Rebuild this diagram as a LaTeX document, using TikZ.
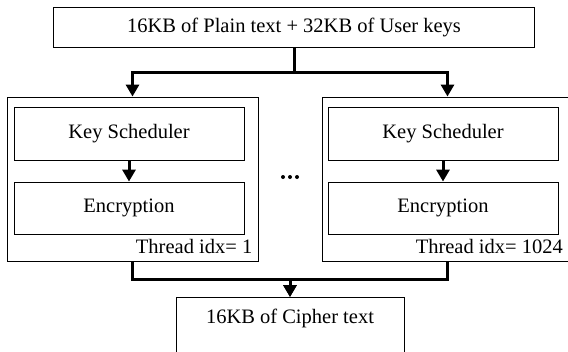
\documentclass[tikz,border=0pt]{standalone}
\usepackage{fontspec}
\setmainfont{Liberation Serif}
\usetikzlibrary{arrows.meta}

\tikzset{
    box/.style={draw, line width=0.9pt, inner sep=0pt},
    flow/.style={line width=3pt, -{Triangle[length=12pt,width=13pt]}},
}

\begin{document}
\begin{tikzpicture}[x=1pt, y=-1pt, font=\fontsize{20.5}{24}\selectfont]
    \clip (0,0) rectangle (568,351);

    \node[box, minimum width=481pt, minimum height=40pt] (input) at (294,27) {16KB of Plain text + 32KB of User keys};

    % thread boxes
    \node[box, minimum width=251pt, minimum height=164pt] (threadA) at (132.5,179) {};
    \node[box, minimum width=251pt, minimum height=164pt] (threadB) at (447.5,179) {};

    \node[box, minimum width=230pt, minimum height=53pt] (keyA) at (129,133.5) {Key Scheduler};
    \node[box, minimum width=230pt, minimum height=52pt] (encA) at (129,208) {Encryption};
    \node[box, minimum width=230pt, minimum height=53pt] (keyB) at (443,133.5) {Key Scheduler};
    \node[box, minimum width=230pt, minimum height=52pt] (encB) at (443,208) {Encryption};

    \node[anchor=base east, inner sep=0pt] (idxA) at ([xshift=-6pt,yshift=8pt]threadA.south east) {Thread idx= 1};
    \node[anchor=base east, inner sep=0pt] (idxB) at (563,253) {Thread idx= 1024};

    \foreach \dx in {-7,0,7}
        \fill (290+\dx,177) circle (2pt);

    \node[box, anchor=north, minimum width=228pt, minimum height=80pt] (cipher) at (290,297) {};
    \node (ciphertxt) at (290,318) {16KB of Cipher text};

    % connectors
    \coordinate (split) at (294,72);
    \coordinate (join) at (290,279);
    \draw[flow] (input.south) -- (split) -| (threadA.north);
    \draw[flow] (input.south) -- (split) -| (threadB.north);
    \draw[flow] (keyA) -- (encA);
    \draw[flow] (keyB) -- (encB);
    \draw[flow] (threadA.south) |- (join) -- (cipher.north);
    \draw[flow] (threadB.south) |- (join) -- (cipher.north);
\end{tikzpicture}
\end{document}
